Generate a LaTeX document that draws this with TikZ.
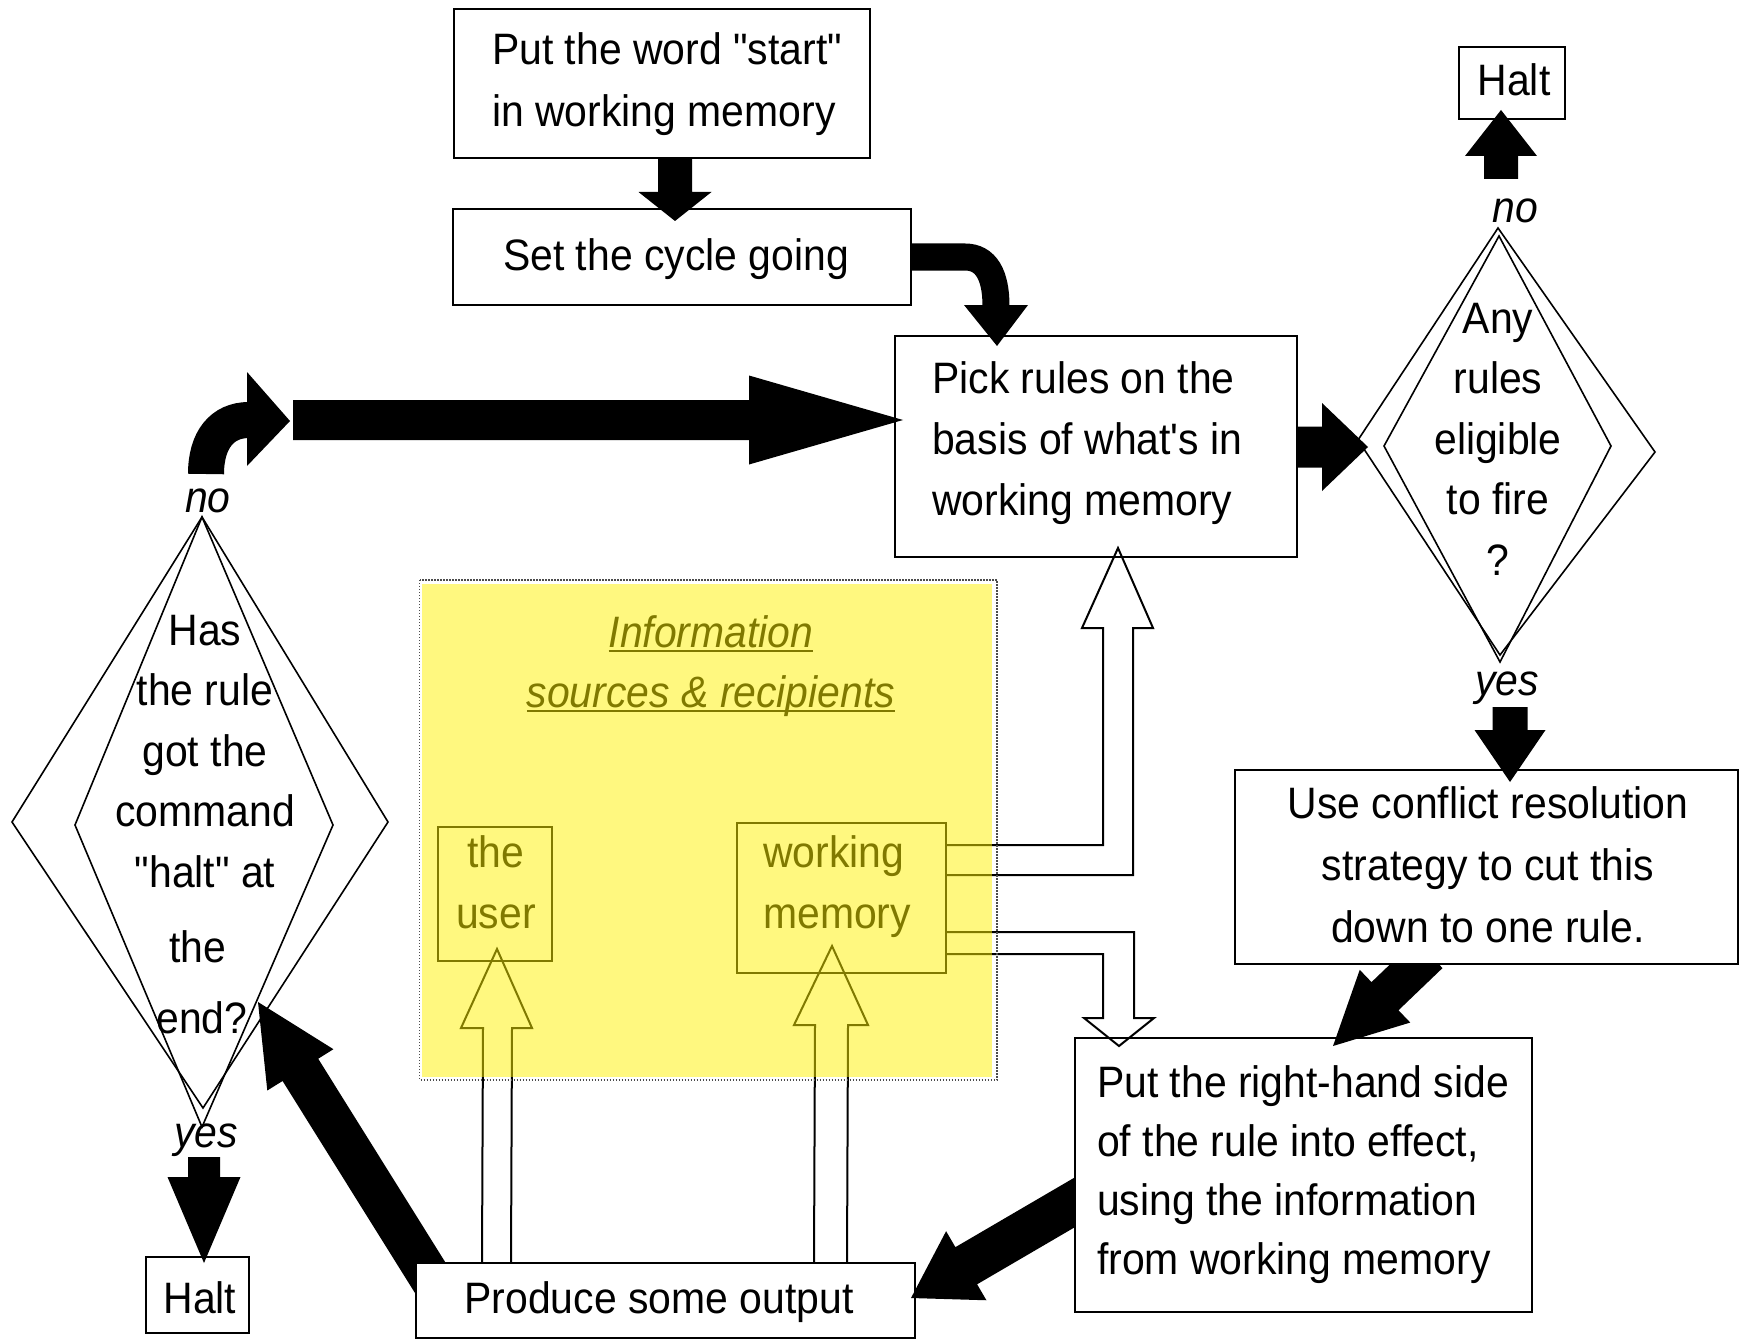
\documentclass[tikz,border=0pt]{standalone}
\usepackage{fontspec}
% plain family without TeX ligature mapping, so quotes stay straight
\newfontfamily\diagfont[FakeStretch=0.93]{Liberation Sans}
\usetikzlibrary{calc}

% stacked lines whose reference point is the baseline of the first line
\newcommand\stackL[2]{\vtop{\baselineskip=#1\lineskiplimit=-100pt\halign{##\hfil\cr#2\crcr}}}
\newcommand\stackC[2]{\vtop{\baselineskip=#1\lineskiplimit=-100pt\halign{\hfil##\hfil\cr#2\crcr}}}
% underline sitting just below the baseline
\newcommand\undl[1]{\setbox0=\hbox{#1}\rlap{\rule[-5pt]{\wd0}{2.5pt}}\box0}

% solid block arrow: from, to, half shaft width, half head width, head length
\newcommand\blockarrow[5]{%
  \coordinate (ba-h) at ($(#2)!#5pt!(#1)$);
  \fill[blockfill] ($(#1)!#3pt!90:(#2)$) -- ($(ba-h)!#3pt!90:(#2)$)
    -- ($(ba-h)!#4pt!90:(#2)$) -- (#2) -- ($(ba-h)!#4pt!-90:(#2)$)
    -- ($(ba-h)!#3pt!-90:(#2)$) -- ($(#1)!#3pt!-90:(#2)$) -- cycle;}

\begin{document}
\begin{tikzpicture}[x=1pt,y=-1pt,
  box/.style={draw, line width=2pt, fill=white, inner sep=0pt},
  txt/.style={inner sep=0pt, font=\diagfont\fontsize{44pt}{61pt}\selectfont},
  lbl/.style={inner sep=0pt, font=\diagfont\fontsize{44pt}{61pt}\selectfont\itshape},
  dline/.style={line width=1.6pt, line join=miter},
  hollow/.style={draw, line width=2pt, line join=miter},
  blockfill/.style={fill=black}]

\useasboundingbox (0,0) rectangle (1744,1340);
\fill[white] (0,0) rectangle (1744,1340);

% decision diamonds
\draw[dline] (202,517) -- (12,822) -- (203,1108) -- (388,822) -- cycle;
\draw[dline] (202,517) -- (75,825) -- (202,1127) -- (333,825) -- cycle;
\draw[dline] (1498,228) -- (1358,440) -- (1500,655) -- (1655,452) -- cycle;
\draw[dline] (1499,236) -- (1384,446) -- (1500,662) -- (1611,446) -- cycle;
\coordinate (q1-in) at (258,1002);
\coordinate (q1-yes) at (204,1157);
\coordinate (q1-no) at (206,474);
\coordinate (q2-in) at (1368,447);
\coordinate (q2-no) at (1501,179);
\coordinate (q2-yes) at (1510,707);

% boxes
\node[box, minimum width=416pt, minimum height=149pt] (start) at (662,83.5) {};
\node[box, minimum width=458pt, minimum height=96pt] (set) at (682,257) {};
\node[box, minimum width=402pt, minimum height=221pt] (pick) at (1096,446.5) {};
\node[box, minimum width=106pt, minimum height=72pt] (halttop) at (1512,83) {};
\node[box, minimum width=103pt, minimum height=76pt] (haltbot) at (197.5,1295) {};
\node[box, minimum width=114pt, minimum height=134pt] (user) at (495,894) {};
\node[box, minimum width=209pt, minimum height=150pt] (wm) at (841.5,898) {};

% output feeds back to the halt test
\coordinate (po-a) at (436,1287);
\blockarrow{po-a}{q1-in}{21}{39}{80}
\node[box, minimum width=499pt, minimum height=75pt] (produce) at (665.5,1300.5) {};

% carrying out the rule produces output
\coordinate (pp-a) at (1089,1194);
\coordinate (pp-b) at (911,1298);
\blockarrow{pp-a}{pp-b}{21.5}{40}{64}
\node[box, minimum width=457pt, minimum height=274pt] (put) at (1303.5,1175) {};

% the chosen rule is put into effect
\coordinate (up-a) at (1429,954);
\coordinate (up-b) at (1333,1046);
\blockarrow{up-a}{up-b}{19.5}{36.5}{72}
\node[box, minimum width=503pt, minimum height=194pt] (use) at (1486.5,867) {};

% straight block arrows
\coordinate (ss-a) at (675,158);
\coordinate (ss-b) at (675,221);
\blockarrow{ss-a}{ss-b}{17}{36.5}{29}
\coordinate (ht-b) at (1501,110);
\blockarrow{q2-no}{ht-b}{17}{36}{46}
\coordinate (use-in) at (1510,782);
\blockarrow{q2-yes}{use-in}{17.5}{35.5}{52}
\coordinate (pk-a) at (1297,447);
\blockarrow{pk-a}{q2-in}{20.5}{44}{46}
\coordinate (hb-b) at (204,1263);
\blockarrow{q1-yes}{hb-b}{16}{36.5}{86}
\coordinate (lp-a) at (293,420);
\coordinate (lp-b) at (903,420);
\blockarrow{lp-a}{lp-b}{20}{44.5}{154}

% curved block arrows
\draw[line width=27pt] (set.east) -- (965,257) .. controls (986,257) and (996,275) .. (996,306);
\fill (964,305) -- (1028,305) -- (997,346) -- cycle;
\draw[line width=36pt] (q1-no) .. controls (206,440) and (222,420) .. (249,420);
\fill (247,372) -- (290,421) -- (247,466) -- cycle;

% hollow arrows to and from working memory
\draw[hollow] ([yshift=53pt]wm.east) -- (1103,845) -- (1103,628) -- (1082,628)
  -- ([xshift=22pt,yshift=10pt]pick.south) -- (1153,628) -- (1133,628) -- (1133,875) -- ([yshift=23pt]wm.east);
\draw[hollow] ([yshift=-34pt]wm.east) -- (1134,932) -- (1134,1018) -- (1154,1018)
  -- ([xshift=-184.5pt,yshift=-9pt]put.north) -- (1084,1018) -- (1103,1018) -- (1103,954) -- ([yshift=-56pt]wm.east);
\draw[hollow] ([xshift=67pt]produce.north west) -- (483,1028) -- (461,1028)
  -- ([xshift=2pt,yshift=13pt]user.south) -- (532,1028) -- (512,1028) -- ([xshift=96pt]produce.north west);
\draw[hollow] ([xshift=399pt]produce.north west) -- (815,1025) -- (794,1025)
  -- ([xshift=-9.5pt,yshift=28pt]wm.south) -- (868,1025) -- (848,1025) -- ([xshift=432pt]produce.north west);

% information sources
\node[lbl, anchor=base] (info-t) at (711,647) {\stackC{60pt}{\undl{Information}\cr \undl{sources \& recipients}}};
\node[txt, anchor=base] (user-t) at (496,867) {\stackC{61pt}{the\cr user}};
\node[txt, anchor=base west] (wm-t) at (763,867) {\stackL{61pt}{working\cr memory}};
\fill[yellow, opacity=0.5] (421.5,584) rectangle (992,1077);
\draw[gray!60!black, line width=1.3pt, dash pattern=on 1.3pt off 1.7pt] (419.5,580) rectangle (997,1080);

% box texts
\node[txt, anchor=base west] (start-t) at (492,65) {\stackL{62pt}{Put the word "start"\cr in working memory}};
\node[txt, anchor=base] (set-t) at (676,270) {Set the cycle going};
\node[txt, anchor=base west] (pick-t) at (932,393) {\stackL{61pt}{Pick rules on the\cr basis of what's in\cr working memory}};
\node[txt, anchor=base] (halttop-t) at (1514,96) {Halt};
\node[txt, anchor=base] (haltbot-t) at (200,1313) {Halt};
\node[txt, anchor=base] (use-t) at (1488,818) {\stackC{62pt}{Use conflict resolution\cr strategy to cut this\cr down to one rule.}};
\node[txt, anchor=base west] (put-t) at (1097,1097) {\stackL{59.3pt}{Put the right-hand side\cr of the rule into effect,\cr using the information\cr from working memory}};
\node[txt, anchor=base] (produce-t) at (659,1313) {Produce some output};

% decision texts and branch labels
\node[txt, anchor=base] (q1-t) at (205,645) {\stackC{61pt}{Has\cr\noalign{\vskip-1pt} the rule\cr got the\cr\noalign{\vskip-1pt} command\cr "halt" at\cr\noalign{\vskip14pt} the\kern14pt\cr\noalign{\vskip10pt} end?\kern6pt}};
\node[txt, anchor=base] (q2-t) at (1498,333) {\stackC{60.5pt}{Any\cr rules\cr eligible\cr to fire\cr ?}};
\node[lbl, anchor=base] (q1-no-t) at (208,512) {no};
\node[lbl, anchor=base] (q1-yes-t) at (206,1147) {yes};
\node[lbl, anchor=base] (q2-no-t) at (1515,223) {no};
\node[lbl, anchor=base] (q2-yes-t) at (1507,695) {yes};
\end{tikzpicture}
\end{document}
